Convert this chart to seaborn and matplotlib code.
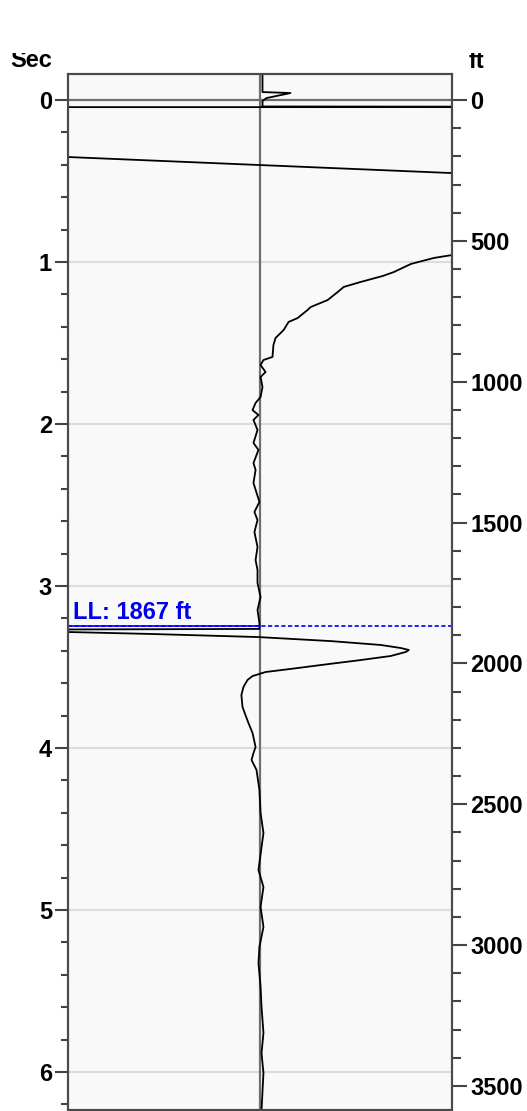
import pandas as pd
import seaborn as sns
import matplotlib.pyplot as plt
from matplotlib.ticker import MultipleLocator
from matplotlib.transforms import Bbox, TransformedBbox

# echo trace: time in sec, amplitude (axes span -1..1)
sec = [-0.160, -0.049, -0.043, -0.012, 0.006, 0.040, 0.044, 0.044, 0.352, 0.451,
       0.617, 0.957, 0.975, 1.012, 1.062, 1.086, 1.123, 1.154, 1.185, 1.235,
       1.278, 1.296, 1.346, 1.370, 1.420, 1.469, 1.512, 1.586, 1.605, 1.636,
       1.679, 1.710, 1.772, 1.833, 1.870, 1.914, 1.944, 1.975, 2.037, 2.117,
       2.160, 2.241, 2.284, 2.364, 2.481, 2.543, 2.593, 2.667, 2.759, 2.840,
       2.901, 2.981, 3.068, 3.148, 3.228, 3.265, 3.275, 3.284, 3.296, 3.315,
       3.340, 3.364, 3.383, 3.395, 3.407, 3.432, 3.457, 3.488, 3.512, 3.531,
       3.556, 3.580, 3.623, 3.673, 3.747, 3.796, 3.846, 3.907, 3.994, 4.031,
       4.074, 4.136, 4.259, 4.401, 4.525, 4.753, 4.858, 4.981, 5.105, 5.228,
       5.327, 5.475, 5.599, 5.759, 5.883, 6.006, 6.235]
amp = [0.013, 0.013, 0.159, 0.034, 0.013, 0.013, 4.0, -4.0, -1.0, 1.0,
       3.0, 1.0, 0.906, 0.786, 0.697, 0.640, 0.525, 0.436, 0.405, 0.352,
       0.264, 0.248, 0.196, 0.149, 0.123, 0.081, 0.070, 0.065, 0.018, 0.003,
       0.029, 0.003, 0.013, 0.003, -0.023, -0.039, -0.008, -0.034, -0.013, -0.034,
       -0.008, -0.034, -0.023, -0.034, -0.003, -0.029, -0.013, -0.029, -0.013, -0.023,
       -0.013, -0.013, 0.003, -0.013, -0.003, -0.003, -3.0, -1.0, -0.572, -0.013,
       0.368, 0.629, 0.734, 0.775, 0.760, 0.681, 0.525, 0.316, 0.159, 0.029,
       -0.039, -0.065, -0.086, -0.097, -0.091, -0.076, -0.060, -0.039, -0.023, -0.034,
       -0.044, -0.018, -0.003, 0.003, 0.018, -0.008, 0.018, 0.003, 0.018, -0.003,
       -0.008, 0.003, 0.008, 0.018, 0.008, 0.018, 0.008]

sec_ticks = [0, 1, 2, 3, 4, 5, 6]
ft_ticks = [0, 500, 1000, 1500, 2000, 2500, 3000, 3500]
ll_ft = 1867
ft_per_sec = 575.1
sec_lim = (6.2315, -0.1605)

sns.set_style("ticks")
plt.rcParams['font.family'] = ['Liberation Sans', 'DejaVu Sans']
plt.rcParams['font.weight'] = 'bold'
plt.rcParams['text.color'] = 'black'

fig = plt.figure(figsize=(5.27, 11.11), dpi=100)
ax = fig.add_axes([68 / 527, 1.5 / 1111, 384 / 527, 1035.5 / 1111])
ax.set_facecolor('#f9f9f9')

# grid lines at whole seconds, darker zero line and centre line
for s in sec_ticks[1:]:
    ax.axhline(s, color='#dcdcdc', lw=1.5, zorder=0)
ax.axhline(0, color='#6f6f6f', lw=1.6, zorder=1)
ax.axvline(0, color='#6f6f6f', lw=1.6, zorder=1)

df = pd.DataFrame({'sec': sec, 'amp': amp})
sns.lineplot(data=df, x='amp', y='sec', sort=False, estimator=None,
             color='black', lw=1.3, ax=ax, zorder=3)

# liquid level marker
ll_sec = ll_ft / ft_per_sec
ax.axhline(ll_sec, color='#0000ff', lw=1.2, ls=(0, (2.5, 1.5)), zorder=4)
ax.plot([-1, 0], [ll_sec, ll_sec], color='#0000ff', lw=1.2, zorder=4)
ax.text(-0.974, ll_sec - 0.043, f'LL: {ll_ft} ft', color='#0000ee',
        fontsize=17, fontweight='bold', va='baseline', zorder=5)

ax.set_xlim(-1, 1)
ax.set_ylim(*sec_lim)
ax.set_xlabel('')
ax.set_ylabel('')
ax.set_xticks([])
ax.set_yticks(sec_ticks)
ax.yaxis.set_minor_locator(MultipleLocator(0.2))
ax.tick_params(axis='y', which='major', length=9.5, width=1.5, color='#444444',
               pad=2, labelsize=17, labelcolor='black')
ax.tick_params(axis='y', which='minor', length=5, width=1.5, color='#444444')

ax2 = ax.twinx()
ax2.set_ylim(sec_lim[0] * ft_per_sec, sec_lim[1] * ft_per_sec)
ax2.set_yticks(ft_ticks)
ax2.yaxis.set_minor_locator(MultipleLocator(100))
ax2.tick_params(axis='y', which='major', length=11, width=1.5, color='#444444',
                pad=2, labelsize=17, labelcolor='black')
ax2.tick_params(axis='y', which='minor', length=6.5, width=1.5, color='#444444')

for a in (ax, ax2):
    for sp in a.spines.values():
        sp.set_visible(True)
        sp.set_color('#4a4a4a')
        sp.set_linewidth(1.5)

# axis titles, cut off at the top like in the source image
clip = TransformedBbox(Bbox([[0, 0], [1, 1058 / 1111]]), fig.transFigure)
t1 = fig.text(52 / 527, 1 - 67 / 1111, 'Sec', ha='right', va='baseline',
              fontsize=17, fontweight='bold', color='black')
t2 = fig.text(469 / 527, 1 - 68 / 1111, 'ft', ha='left', va='baseline',
              fontsize=17, fontweight='bold', color='black')
for t in (t1, t2):
    t.set_clip_box(clip)
    t.set_clip_on(True)

fig.savefig('out.png', dpi=100)
